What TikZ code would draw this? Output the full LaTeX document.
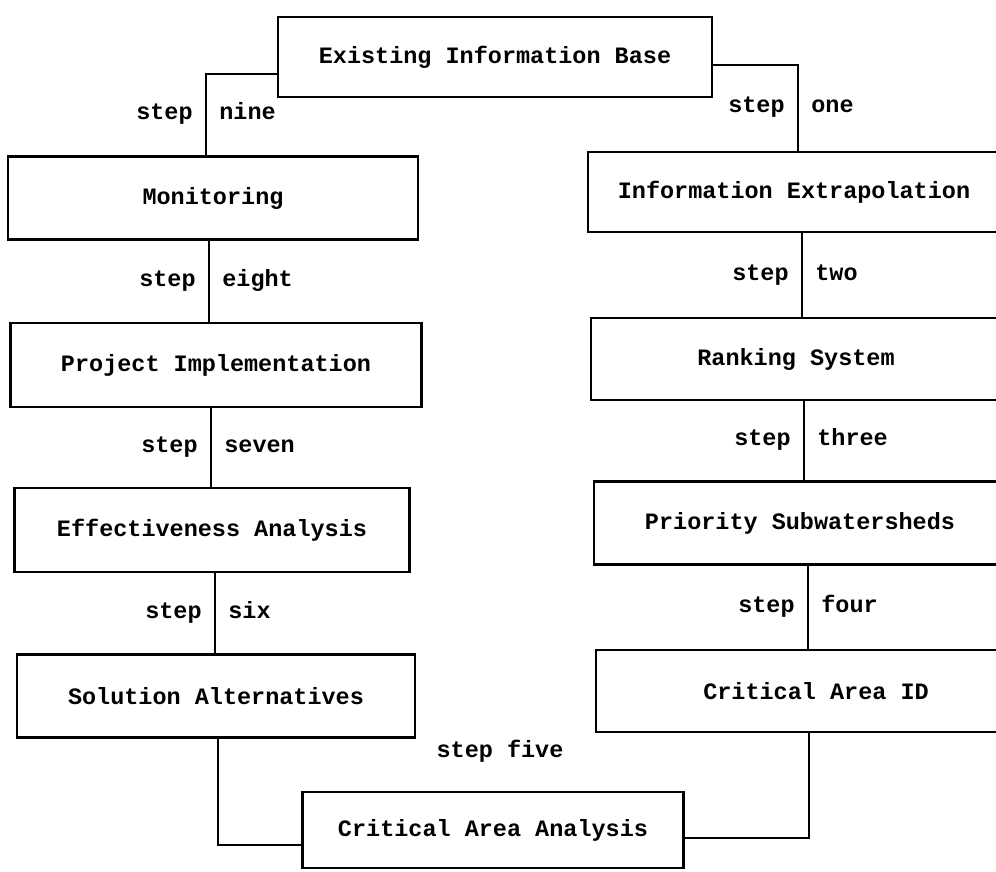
\documentclass[tikz,border=0pt]{standalone}
\usepackage{fontspec}
\setmonofont{Liberation Mono}
\newcommand{\pxu}{0.025cm}
\tikzset{
	stagebox/.style={draw, line width=1.9pt, minimum height=82*\pxu, inner sep=0pt,
		font=\ttfamily\bfseries\fontsize{16.7}{20}\selectfont},
	steplabel/.style={font=\ttfamily\bfseries\fontsize{16.7}{20}\selectfont, inner xsep=12*\pxu,
		text height=1.7ex, text depth=0ex},
	link/.style={line width=1.9pt}
}
\begin{document}
\begin{tikzpicture}[x=\pxu, y=-\pxu]
	\useasboundingbox (0,0) rectangle (996,871);

	% the right column, steps one to four
	\node[stagebox, minimum width=434*\pxu, minimum height=80*\pxu] (eib) at (495,57) {Existing Information Base};
	\node[stagebox, minimum width=412*\pxu, minimum height=80*\pxu] (ie) at (794,192) {Information Extrapolation};
	\node[stagebox, minimum width=410*\pxu] (rs) at (796,359) {Ranking System};
	\node[stagebox, minimum width=412*\pxu, minimum height=83*\pxu] (ps) at (800,523) {Priority Subwatersheds};
	\node[stagebox, minimum width=440*\pxu] (caid) at (816,691) {Critical Area ID};
	\node[stagebox, minimum width=381*\pxu, minimum height=76*\pxu] (caa) at (493,830) {Critical Area Analysis};

	% the left column, steps six to nine
	\node[stagebox, minimum width=398*\pxu, minimum height=83*\pxu] (sa) at (216,696) {Solution Alternatives};
	\node[stagebox, minimum width=395*\pxu, minimum height=84*\pxu] (ea) at (212,530) {Effectiveness Analysis};
	\node[stagebox, minimum width=411*\pxu, minimum height=84*\pxu] (pi) at (216,365) {Project Implementation};
	\node[stagebox, minimum width=410*\pxu, minimum height=83*\pxu] (mon) at (213,198) {Monitoring};

	\draw[link] (eib.east |- 0,65) -| (ie.north -| 798,0)
		node[steplabel, pos=0.75, left]{step} node[steplabel, pos=0.75, right]{one};
	\draw[link] (ie.south -| 802,0) -- (rs.north -| 802,0)
		node[steplabel, midway, left]{step} node[steplabel, midway, right]{two};
	\draw[link] (rs.south -| 804,0) -- (ps.north -| 804,0)
		node[steplabel, midway, left]{step} node[steplabel, midway, right]{three};
	\draw[link] (ps.south -| 808,0) -- (caid.north -| 808,0)
		node[steplabel, midway, left]{step} node[steplabel, midway, right]{four};

	\draw[link] (caid.south -| 809,0) |- (caa.east |- 0,838);
	\draw[link] (sa.south -| 218,0) |- (caa.west |- 0,845);
	\node[steplabel] (five) at (500,752) {step five};

	\draw[link] (ea.south -| 215,0) -- (sa.north -| 215,0)
		node[steplabel, midway, left]{step} node[steplabel, midway, right]{six};
	\draw[link] (pi.south -| 211,0) -- (ea.north -| 211,0)
		node[steplabel, midway, left]{step} node[steplabel, midway, right]{seven};
	\draw[link] (mon.south -| 209,0) -- (pi.north -| 209,0)
		node[steplabel, midway, left]{step} node[steplabel, midway, right]{eight};
	\draw[link] (mon.north -| 206,0) |- (eib.west |- 0,74)
		node[steplabel, pos=0.25, left]{step} node[steplabel, pos=0.25, right]{nine};
\end{tikzpicture}
\end{document}
